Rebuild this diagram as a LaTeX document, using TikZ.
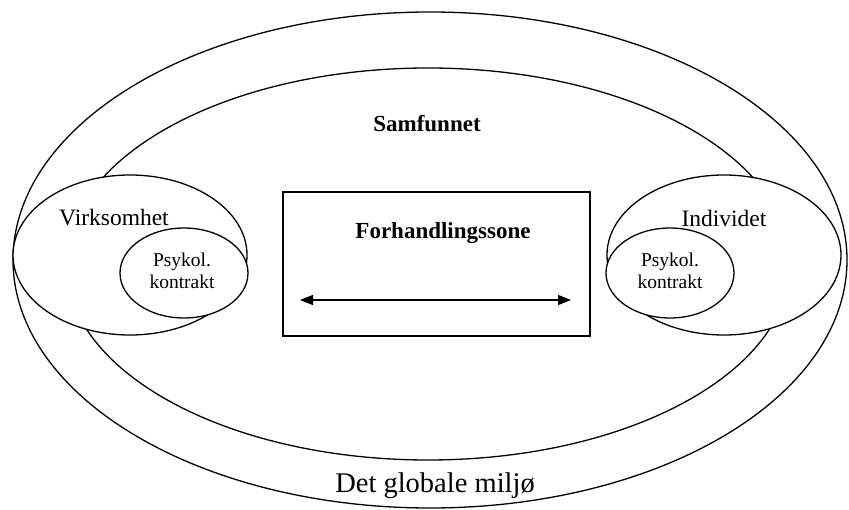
\documentclass[tikz,border=0pt]{standalone}
\usepackage{fontspec}
\setmainfont{Liberation Serif}
\usetikzlibrary{arrows.meta}
\begin{document}
\begin{tikzpicture}[x = 1pt, y = -1pt,
  ring/.style = {line width = 1.3},
  lomme/.style = {ring, fill = white},
  tekst/.style = {inner sep = 0, font = \fontsize{23.5}{26}\selectfont},
  tittel/.style = {inner sep = 0, font = \fontsize{23}{26}\selectfont\bfseries},
  psykol/.style = {inner sep = 0, align = center, font = \fontsize{19.5}{22}\selectfont}
]
\useasboundingbox (0, 0) rectangle (849, 510);
\draw[ring] (430, 260) ellipse[x radius = 417, y radius = 248]; % det globale miljoet
\draw[ring] (428, 264) ellipse[x radius = 362, y radius = 196]; % samfunnet
\draw[lomme] (130, 255) ellipse[x radius = 117, y radius = 80];
\draw[lomme] (184, 273) ellipse[x radius = 64, y radius = 45];
\draw[lomme] (724, 255) ellipse[x radius = 117, y radius = 80];
\draw[lomme] (670, 273) ellipse[x radius = 64, y radius = 45];
\node[draw, ring, minimum width = 307, minimum height = 144] (sone) at (436.5, 264) {};
\node[tittel] (samfunn) at (427, 124) {Samfunnet};
\node[tittel] (forhandling) at (443, 233) {Forhandlingssone};
\node[tekst] (virksomhet) at (114, 218) {Virksomhet};
\node[tekst] (individ) at (724, 218) {Individet};
\node[psykol] (psykolV) at (182, 271) {Psykol.\\kontrakt};
\node[psykol] (psykolH) at (670, 271) {Psykol.\\kontrakt};
\node[inner sep = 0, font = \fontsize{28.5}{32}\selectfont] (miljo) at (435, 486) {Det globale miljø};
\coordinate (pilV) at (300, 300);
\coordinate (pilH) at (571, 300);
\draw[ring, {Triangle[length = 13pt, width = 10pt]}-{Triangle[length = 13pt, width = 10pt]}] (pilV) -- (pilH);
\end{tikzpicture}
\end{document}
